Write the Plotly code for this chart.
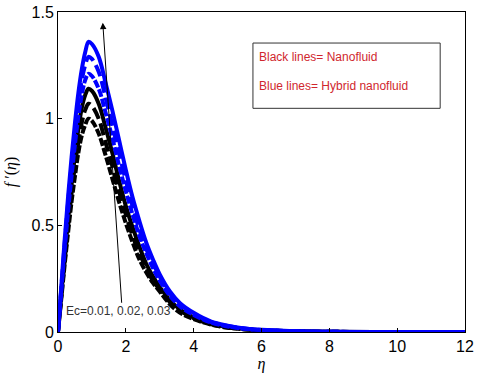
import plotly.graph_objects as go

# eta grid and f'(eta) profiles
eta = [0, 0.1, 0.2, 0.3, 0.4, 0.5, 0.6, 0.7, 0.8, 0.9, 1.0, 1.2, 1.4, 1.6, 1.8, 2.0,
       2.2, 2.4, 2.6, 2.8, 3.0, 3.3, 3.6, 4.0, 4.5, 5.0, 5.5, 6.0, 7.0, 8.0, 10.0, 12.0]

nano_ec1 = [0, 0.16, 0.32, 0.47, 0.61, 0.73, 0.84, 0.92, 0.97, 1.00, 0.99, 0.93, 0.83, 0.72, 0.61, 0.51,
            0.42, 0.34, 0.28, 0.23, 0.19, 0.13, 0.09, 0.06, 0.035, 0.02, 0.012, 0.007, 0.003, 0.001, 0, 0]
nano_ec2 = [0, 0.17, 0.34, 0.50, 0.65, 0.78, 0.89, 0.98, 1.04, 1.07, 1.06, 1.00, 0.89, 0.78, 0.66, 0.55,
            0.45, 0.37, 0.30, 0.24, 0.20, 0.14, 0.10, 0.065, 0.037, 0.021, 0.013, 0.008, 0.003, 0.001, 0, 0]
nano_ec3 = [0, 0.18, 0.36, 0.53, 0.69, 0.83, 0.95, 1.05, 1.11, 1.14, 1.13, 1.07, 0.96, 0.84, 0.71, 0.59,
            0.49, 0.40, 0.32, 0.26, 0.21, 0.15, 0.105, 0.068, 0.04, 0.023, 0.014, 0.008, 0.003, 0.001, 0, 0]
hybrid_ec1 = [0, 0.20, 0.39, 0.57, 0.73, 0.88, 1.01, 1.11, 1.18, 1.21, 1.20, 1.14, 1.03, 0.91, 0.78, 0.66,
              0.55, 0.45, 0.37, 0.30, 0.24, 0.17, 0.12, 0.08, 0.045, 0.026, 0.015, 0.009, 0.003, 0.001, 0, 0]
hybrid_ec2 = [0, 0.21, 0.42, 0.61, 0.78, 0.93, 1.07, 1.18, 1.25, 1.29, 1.28, 1.22, 1.10, 0.97, 0.84, 0.71,
              0.59, 0.48, 0.39, 0.32, 0.26, 0.18, 0.13, 0.085, 0.048, 0.028, 0.016, 0.009, 0.003, 0.001, 0, 0]
hybrid_ec3 = [0, 0.22, 0.44, 0.64, 0.82, 0.98, 1.12, 1.23, 1.31, 1.36, 1.35, 1.29, 1.17, 1.04, 0.90, 0.76,
              0.63, 0.52, 0.42, 0.34, 0.27, 0.19, 0.135, 0.09, 0.05, 0.03, 0.017, 0.01, 0.004, 0.001, 0, 0]

xticks = [0, 2, 4, 6, 8, 10, 12]
yticks = [0, 0.5, 1, 1.5]
ytick_text = ['0', '0.5', '1', '1.5']

dots = '8px,2px'
dashes = '12px,5px'

curves = [
    (nano_ec1, 'black', dots), (nano_ec2, 'black', dashes), (nano_ec3, 'black', 'solid'),
    (hybrid_ec1, 'blue', dots), (hybrid_ec2, 'blue', dashes), (hybrid_ec3, 'blue', 'solid'),
]

fig = go.Figure()
for y, col, dash in curves:
    fig.add_trace(go.Scatter(x=eta, y=y, mode='lines', line_shape='spline',
                             line=dict(color=col, width=4, dash=dash)))

axis = dict(showgrid=False, zeroline=False, showline=True, linecolor='black', linewidth=1,
            mirror=True, ticks='inside', ticklen=4, tickcolor='black', automargin=False,
            tickfont=dict(family='Liberation Sans, Arial', size=16, color='black'))

fig.update_layout(
    width=480, height=376,
    margin=dict(l=58, r=15, t=12, b=44),
    paper_bgcolor='white', plot_bgcolor='white',
    showlegend=False,
    xaxis=dict(axis, range=[0, 12], tickvals=xticks,
               title=dict(text='<i>η</i>', font=dict(family='Liberation Serif', size=16, color='black'),
                          standoff=1)),
    yaxis=dict(axis, range=[0, 1.5], tickvals=yticks, ticktext=ytick_text,
               title=dict(text="<i>f</i> ′(<i>η</i>)", font=dict(family='Liberation Serif', size=16, color='black'),
                          standoff=10)),
)

# Ec arrow
fig.add_annotation(x=1.32, y=1.45, ax=1.88, ay=0.13, xref='x', yref='y', axref='x', ayref='y',
                   text='', showarrow=True, arrowhead=2, arrowsize=1.3, arrowwidth=1, arrowcolor='black')
fig.add_annotation(x=0.17, y=0.1, xref='x', yref='y', xanchor='left', yanchor='middle',
                   text='Ec=0.01, 0.02, 0.03', showarrow=False,
                   font=dict(family='Liberation Sans, Arial', size=12, color='#333333'))

# text box
fig.add_shape(type='rect', xref='paper', yref='paper', x0=0.479, x1=0.939, y0=0.699, y1=0.903,
              line=dict(color='#333333', width=1), fillcolor='white', layer='below')
red = '#d0262e'
fig.add_annotation(x=0.49, y=0.86, xref='paper', yref='paper', xanchor='left', yanchor='middle',
                   text='Black lines= Nanofluid', showarrow=False,
                   font=dict(family='Liberation Sans, Arial', size=12, color=red))
fig.add_annotation(x=0.49, y=0.77, xref='paper', yref='paper', xanchor='left', yanchor='middle',
                   text='Blue lines= Hybrid nanofluid', showarrow=False,
                   font=dict(family='Liberation Sans, Arial', size=12, color=red))

# drop the browser's default body margin so the figure sits at the page corner
fig.write_html("out.html", config={'displayModeBar': False},
               post_script="document.body.style.margin='0';")
